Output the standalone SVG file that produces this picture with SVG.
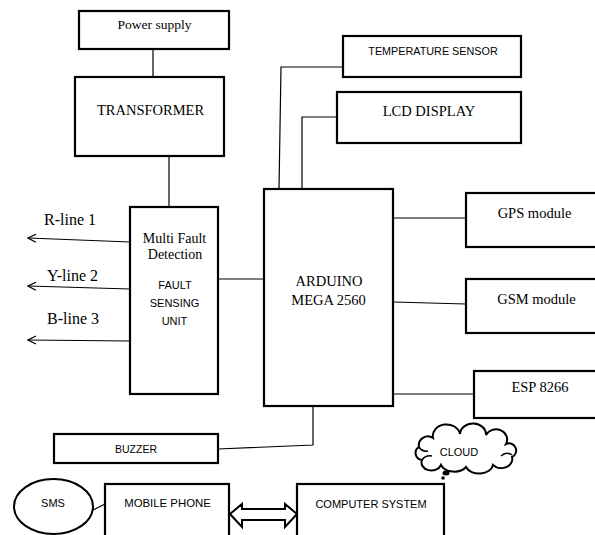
<svg xmlns="http://www.w3.org/2000/svg" width="595" height="535" viewBox="0 0 595 535">
<defs>
<style>
.box{fill:#fff;stroke:#000;stroke-width:2.2}
.ln{fill:none;stroke:#000;stroke-width:1.2}
.serif{font-family:"Liberation Serif","Times New Roman",serif;font-size:14.5px;fill:#000;text-anchor:middle}
.sans{font-family:"Liberation Sans",Arial,sans-serif;font-size:11px;fill:#000;text-anchor:middle}
.lbl{font-family:"Liberation Serif","Times New Roman",serif;font-size:16px;fill:#000}
</style>
<marker id="chev" viewBox="0 0 10 10" refX="9" refY="5" markerWidth="10" markerHeight="10" markerUnits="userSpaceOnUse" orient="auto">
<path d="M1,1 L9,5 L1,9" fill="none" stroke="#000" stroke-width="1.2"/>
</marker>
</defs>
<rect width="595" height="535" fill="#fff"/>
<g id="connectors">
<line class="ln" x1="153" y1="49" x2="153" y2="77"/>
<line class="ln" x1="169" y1="156" x2="169" y2="207"/>
<line class="ln" x1="130" y1="242" x2="28" y2="238" marker-end="url(#chev)"/>
<line class="ln" x1="130" y1="289" x2="28" y2="286" marker-end="url(#chev)"/>
<line class="ln" x1="130" y1="341" x2="28" y2="340" marker-end="url(#chev)"/>
<line class="ln" x1="218" y1="279" x2="264" y2="279"/>
<polyline class="ln" points="343,67 281,67 279,189"/>
<polyline class="ln" points="337,117 302,117 302,189"/>
<line class="ln" x1="393" y1="218" x2="466" y2="218"/>
<line class="ln" x1="393" y1="302" x2="466" y2="304"/>
<line class="ln" x1="393" y1="394" x2="474" y2="394"/>
<polyline class="ln" points="313,406 313,445 218,449"/>
<line class="ln" x1="93" y1="510" x2="105" y2="504"/>
<polygon points="230,514 242,504 242,509 285,509 285,504 297,514 285,527 285,520 242,520 242,527" fill="#fff" stroke="#000" stroke-width="2"/>
</g>
<g id="power-supply">
<rect class="box" x="79" y="11" width="150" height="38"/>
<text class="serif" x="154.5" y="29" style="font-size:13.5px">Power supply</text>
</g>
<g id="transformer">
<rect class="box" x="75" y="77" width="149" height="79"/>
<text class="serif" x="150.5" y="115">TRANSFORMER</text>
</g>
<g id="temperature-sensor">
<rect class="box" x="343" y="36" width="178" height="41"/>
<text class="sans" x="433" y="55" style="font-size:10.8px">TEMPERATURE SENSOR</text>
</g>
<g id="lcd-display">
<rect class="box" x="337" y="92" width="184" height="51"/>
<text class="serif" x="429" y="116">LCD DISPLAY</text>
</g>
<g id="r-line">
<text class="lbl" x="44" y="225">R-line 1</text>
</g>
<g id="y-line">
<text class="lbl" x="47" y="281">Y-line 2</text>
</g>
<g id="b-line">
<text class="lbl" x="47" y="324">B-line 3</text>
</g>
<g id="fault-sensing-unit">
<rect class="box" x="130" y="207" width="88" height="187"/>
<text class="serif" x="174.5" y="243" style="font-size:14px">Multi Fault</text>
<text class="serif" x="175" y="259" style="font-size:14px">Detection</text>
<text class="sans" x="175" y="289">FAULT</text>
<text class="sans" x="174.5" y="307">SENSING</text>
<text class="sans" x="174.5" y="325">UNIT</text>
</g>
<g id="arduino">
<rect class="box" x="264" y="189" width="129" height="217"/>
<text class="serif" x="329" y="286">ARDUINO</text>
<text class="serif" x="328.5" y="305">MEGA 2560</text>
</g>
<g id="gps-module">
<rect class="box" x="466" y="193" width="132" height="54"/>
<text class="serif" x="534.5" y="218">GPS module</text>
</g>
<g id="gsm-module">
<rect class="box" x="466" y="279" width="132" height="54"/>
<text class="serif" x="536.5" y="304">GSM module</text>
</g>
<g id="esp8266">
<rect class="box" x="474" y="371" width="124" height="47"/>
<text class="serif" x="540" y="392">ESP 8266</text>
</g>
<g id="buzzer">
<rect class="box" x="54" y="434" width="164" height="29"/>
<text class="sans" x="136" y="453" style="font-size:10.5px">BUZZER</text>
</g>
<g id="cloud">
<path d="M419,447 A9,9 0 0 1 433,438 A13,11 0 0 1 460,434 A13,11 0 0 1 486,435 A11,10 0 0 1 506,444 A7,7 0 0 1 512,457 A11,9 0 0 1 493,465 A14,10 0 0 1 466,467 A14,10 0 0 1 441,465 A10,8 0 0 1 422,460 A7,7 0 0 1 419,447 Z" fill="#fff" stroke="#000" stroke-width="2"/>
<path d="M422,460 Q425,455 432,456 M501,456 Q506,451 512,455 M419,447 Q422,452 428,451" fill="none" stroke="#000" stroke-width="1.5"/>
<ellipse cx="446" cy="473" rx="3.5" ry="2.5" fill="#000"/>
<circle cx="443" cy="478" r="1.8" fill="#000"/>
<text class="sans" x="459" y="456">CLOUD</text>
</g>
<g id="sms">
<ellipse cx="53.5" cy="506.5" rx="39.5" ry="27.5" fill="#fff" stroke="#000" stroke-width="2"/>
<text class="sans" x="53" y="507">SMS</text>
</g>
<g id="mobile-phone">
<rect class="box" x="105" y="484" width="124" height="54"/>
<text class="sans" x="167.5" y="507" style="font-size:11.4px">MOBILE PHONE</text>
</g>
<g id="computer-system">
<rect class="box" x="297" y="484" width="147" height="54"/>
<text class="sans" x="371" y="508">COMPUTER SYSTEM</text>
</g>
</svg>
